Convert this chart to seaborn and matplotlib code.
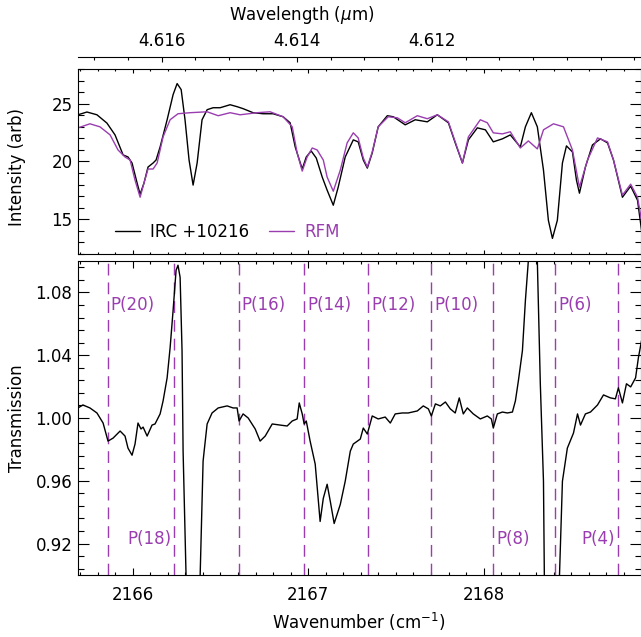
import matplotlib
matplotlib.use("Agg")
import matplotlib.pyplot as plt
import seaborn as sns
import pandas as pd
from matplotlib.ticker import MultipleLocator, FixedLocator

# ---------------- data ----------------
# Top panel: observed spectrum of IRC +10216
obs_wn = [2165.688, 2165.739, 2165.796, 2165.853, 2165.899, 2165.945, 2165.973, 2165.996,
          2166.025, 2166.042, 2166.064, 2166.087, 2166.116, 2166.133, 2166.156, 2166.196,
          2166.230, 2166.253, 2166.276, 2166.298, 2166.321, 2166.344, 2166.367, 2166.395,
          2166.424, 2166.458, 2166.498, 2166.555, 2166.595, 2166.629, 2166.686, 2166.743,
          2166.800, 2166.857, 2166.897, 2166.926, 2166.966, 2166.989, 2167.017, 2167.046,
          2167.080, 2167.108, 2167.143, 2167.171, 2167.211, 2167.257, 2167.285, 2167.314,
          2167.337, 2167.365, 2167.399, 2167.451, 2167.485, 2167.553, 2167.610, 2167.679,
          2167.736, 2167.799, 2167.838, 2167.879, 2167.913, 2167.964, 2168.010, 2168.055,
          2168.107, 2168.152, 2168.209, 2168.238, 2168.272, 2168.306, 2168.341, 2168.369,
          2168.392, 2168.420, 2168.449, 2168.472, 2168.506, 2168.529, 2168.546, 2168.580,
          2168.620, 2168.666, 2168.706, 2168.740, 2168.791, 2168.838, 2168.877, 2168.900]
obs_int = [24.04, 24.28, 24.04, 23.32, 22.30, 20.57, 20.39, 19.87,
           18.13, 17.17, 18.13, 19.52, 19.87, 20.13, 21.26, 23.61,
           25.78, 26.74, 26.22, 23.61, 20.13, 17.96, 19.87, 23.61,
           24.48, 24.65, 24.65, 24.91, 24.74, 24.57, 24.22, 24.13,
           24.13, 23.87, 23.35, 21.26, 19.35, 20.39, 20.91, 20.30,
           18.65, 17.52, 16.22, 17.78, 20.39, 21.87, 21.70, 20.13,
           19.43, 20.74, 23.00, 23.96, 23.87, 23.17, 23.61, 23.43,
           24.04, 23.35, 21.61, 19.87, 21.87, 22.91, 22.74, 21.70,
           21.96, 22.30, 21.26, 23.00, 24.22, 23.00, 19.26, 14.91,
           13.35, 14.91, 19.87, 21.35, 20.83, 18.39, 17.26, 19.52,
           21.43, 21.96, 21.61, 20.13, 16.91, 17.87, 16.65, 14.04]

# Top panel: RFM model
rfm_wn = [2165.688, 2165.756, 2165.813, 2165.871, 2165.916, 2165.956, 2165.985, 2166.013,
          2166.042, 2166.064, 2166.087, 2166.116, 2166.139, 2166.173, 2166.213, 2166.258,
          2166.327, 2166.424, 2166.487, 2166.555, 2166.612, 2166.709, 2166.783, 2166.857,
          2166.909, 2166.937, 2166.966, 2166.994, 2167.023, 2167.051, 2167.086, 2167.108,
          2167.143, 2167.183, 2167.222, 2167.257, 2167.285, 2167.314, 2167.337, 2167.365,
          2167.399, 2167.456, 2167.508, 2167.553, 2167.622, 2167.679, 2167.736, 2167.799,
          2167.838, 2167.879, 2167.913, 2167.981, 2168.021, 2168.055, 2168.107, 2168.152,
          2168.209, 2168.255, 2168.306, 2168.341, 2168.398, 2168.455, 2168.506, 2168.546,
          2168.592, 2168.649, 2168.706, 2168.740, 2168.791, 2168.838, 2168.877, 2168.900]
rfm_int = [22.91, 23.26, 23.00, 22.30, 21.00, 20.39, 20.13, 18.39,
           16.91, 18.13, 19.35, 19.35, 19.87, 22.13, 23.61, 24.13,
           24.22, 24.30, 23.96, 24.22, 24.04, 24.22, 24.30, 23.87,
           23.00, 20.74, 19.17, 20.39, 21.17, 21.00, 20.13, 18.65,
           17.43, 19.26, 21.61, 22.48, 22.04, 20.30, 19.52, 20.83,
           23.00, 23.87, 23.78, 23.35, 23.96, 23.70, 24.04, 23.43,
           21.70, 19.87, 22.13, 23.61, 23.35, 22.48, 22.39, 22.57,
           21.17, 21.78, 21.09, 22.74, 23.26, 23.00, 21.00, 17.78,
           20.13, 22.04, 21.70, 20.13, 17.09, 18.04, 16.91, 14.91]

# Bottom panel: transmission (observed / model)
tr_wn = [2165.688, 2165.716, 2165.756, 2165.796, 2165.831, 2165.859, 2165.888, 2165.928,
         2165.956, 2165.973, 2165.996, 2166.013, 2166.030, 2166.047, 2166.059, 2166.082,
         2166.110, 2166.127, 2166.156, 2166.173, 2166.196, 2166.213, 2166.230, 2166.247,
         2166.258, 2166.270, 2166.281, 2166.287, 2166.304, 2166.344, 2166.384, 2166.401,
         2166.407, 2166.424, 2166.452, 2166.487, 2166.538, 2166.572, 2166.595, 2166.606,
         2166.629, 2166.658, 2166.698, 2166.726, 2166.755, 2166.795, 2166.840, 2166.880,
         2166.909, 2166.937, 2166.949, 2166.966, 2166.977, 2166.989, 2167.011, 2167.040,
         2167.068, 2167.086, 2167.108, 2167.126, 2167.148, 2167.183, 2167.211, 2167.240,
         2167.257, 2167.297, 2167.314, 2167.337, 2167.365, 2167.399, 2167.439, 2167.468,
         2167.496, 2167.536, 2167.570, 2167.622, 2167.656, 2167.685, 2167.702, 2167.725,
         2167.753, 2167.782, 2167.810, 2167.838, 2167.861, 2167.884, 2167.907, 2167.941,
         2167.981, 2168.021, 2168.044, 2168.055, 2168.078, 2168.107, 2168.135, 2168.164,
         2168.181, 2168.198, 2168.221, 2168.238, 2168.255, 2168.278, 2168.306, 2168.323,
         2168.341, 2168.346, 2168.387, 2168.432, 2168.449, 2168.477, 2168.512, 2168.535,
         2168.552, 2168.580, 2168.609, 2168.649, 2168.683, 2168.723, 2168.751, 2168.768,
         2168.791, 2168.814, 2168.838, 2168.866, 2168.882, 2168.900]
tr_val = [1.0064, 1.0083, 1.0064, 1.0032, 0.9968, 0.9853, 0.9872, 0.9917,
          0.9885, 0.9808, 0.9763, 0.9834, 0.9968, 0.9930, 0.9942, 0.9885,
          0.9955, 0.9962, 1.0026, 1.0109, 1.0256, 1.0448, 1.0685, 1.0941,
          1.0973, 1.0896, 1.0429, 0.9789, 0.8989, 0.8000, 0.8989, 0.9725,
          0.9789, 0.9962, 1.0032, 1.0064, 1.0077, 1.0064, 1.0064, 0.9981,
          1.0026, 1.0000, 0.9930, 0.9853, 0.9885, 0.9962, 0.9955, 0.9949,
          0.9981, 0.9994, 1.0096, 1.0026, 0.9962, 0.9981, 0.9853, 0.9706,
          0.9341, 0.9488, 0.9578, 0.9469, 0.9328, 0.9450, 0.9597, 0.9789,
          0.9834, 0.9866, 0.9936, 0.9898, 1.0013, 0.9994, 1.0006, 0.9968,
          1.0026, 1.0032, 1.0032, 1.0045, 1.0077, 1.0058, 1.0013, 1.0090,
          1.0077, 1.0102, 1.0058, 1.0032, 1.0128, 1.0026, 1.0064, 1.0026,
          0.9994, 1.0013, 0.9994, 0.9936, 1.0026, 1.0038, 1.0032, 1.0038,
          1.0109, 1.0237, 1.0429, 1.0749, 1.1005, 1.1600, 1.1000, 1.0218,
          0.9597, 0.8989, 0.8200, 0.8989, 0.9597, 0.9808, 0.9904, 1.0026,
          0.9955, 1.0026, 1.0038, 1.0083, 1.0147, 1.0128, 1.0122, 1.0192,
          1.0096, 1.0218, 1.0198, 1.0256, 1.0384, 1.0493]

# Line identifications
p_wn = [2165.859, 2166.236, 2166.606, 2166.977, 2167.342, 2167.702, 2168.055, 2168.409, 2168.763]
p_labels = ["P(20)", "P(18)", "P(16)", "P(14)", "P(12)", "P(10)", "P(8)", "P(6)", "P(4)"]

wn_ticks = [2166, 2167, 2168]
wl_ticks = [4.616, 4.614, 4.612]
int_ticks = [15, 20, 25]
tr_ticks = [0.92, 0.96, 1.00, 1.04, 1.08]

# ---------------- styling ----------------
sns.set_style("ticks")
plt.rcParams["font.family"] = ["DejaVu Sans"]
plt.rcParams["mathtext.fontset"] = "dejavusans"
plt.rcParams["text.color"] = "black"
plt.rcParams["axes.labelcolor"] = "black"
plt.rcParams["xtick.color"] = "black"
plt.rcParams["ytick.color"] = "black"
plt.rcParams["axes.edgecolor"] = "black"
FS = 12
PURPLE = "#9a3db0"

# label placement: (level, side)
place = {"P(20)": ("top", "right"), "P(18)": ("bottom", "left"), "P(16)": ("top", "right"),
         "P(14)": ("top", "right"), "P(12)": ("top", "right"), "P(10)": ("top", "right"),
         "P(8)": ("bottom", "right"), "P(6)": ("top", "right"), "P(4)": ("bottom", "left")}

W_PX, H_PX = 641, 637
fig = plt.figure(figsize=(W_PX / 100, H_PX / 100), dpi=100)
L = 78 / W_PX
W = 562.5 / W_PX
ax_top = fig.add_axes([L, (H_PX - 254) / H_PX, W, 185 / H_PX])
ax_bot = fig.add_axes([L, (H_PX - 575) / H_PX, W, 314 / H_PX])
ax_wl = fig.add_axes([L, (H_PX - 57) / H_PX - 0.002, W, 0.002])

xlim = (2165.688, 2168.894)

# ---- top panel
df_obs = pd.DataFrame({"wn": obs_wn, "val": obs_int})
df_rfm = pd.DataFrame({"wn": rfm_wn, "val": rfm_int})
sns.lineplot(data=df_obs, x="wn", y="val", color="black", lw=1.0, ax=ax_top, label="IRC +10216")
sns.lineplot(data=df_rfm, x="wn", y="val", color=PURPLE, lw=1.0, ax=ax_top, label="RFM")
ax_top.set_xlim(*xlim)
ax_top.set_ylim(12, 28)
ax_top.xaxis.set_major_locator(FixedLocator(wn_ticks))
ax_top.xaxis.set_minor_locator(MultipleLocator(0.1))
ax_top.yaxis.set_major_locator(FixedLocator(int_ticks))
ax_top.yaxis.set_minor_locator(MultipleLocator(1))
ax_top.set_xticklabels([])
ax_top.set_xlabel("")
ax_top.set_ylabel("Intensity (arb)", fontsize=FS)
ax_top.yaxis.set_label_coords(-0.093, 0.47)
ax_top.tick_params(axis="both", which="both", direction="in", top=True, right=True,
                   labelsize=FS, width=0.8, pad=4)
ax_top.tick_params(axis="x", which="major", length=2.8)
ax_top.tick_params(axis="x", which="minor", length=1.5)
ax_top.tick_params(axis="y", which="major", length=8)
ax_top.tick_params(axis="y", which="minor", length=4)
leg = ax_top.legend(loc="center left", bbox_to_anchor=(0.066, 0.12), ncol=2, frameon=False,
                    fontsize=FS, handlelength=1.5, handletextpad=0.6, columnspacing=1.2,
                    borderpad=0, borderaxespad=0)
for t, c in zip(leg.get_texts(), ["black", PURPLE]):
    t.set_color(c)

# ---- bottom panel
df_tr = pd.DataFrame({"wn": tr_wn, "val": tr_val})
for wn in p_wn:
    ax_bot.axvline(wn, color=PURPLE, lw=1.0, dashes=(8.5, 5))
sns.lineplot(data=df_tr, x="wn", y="val", color="black", lw=1.0, ax=ax_bot)
ax_bot.set_xlim(*xlim)
ax_bot.set_ylim(0.90, 1.10)
ax_bot.xaxis.set_major_locator(FixedLocator(wn_ticks))
ax_bot.xaxis.set_minor_locator(MultipleLocator(0.1))
ax_bot.yaxis.set_major_locator(FixedLocator(tr_ticks))
ax_bot.yaxis.set_minor_locator(MultipleLocator(0.008))
ax_bot.yaxis.set_major_formatter(matplotlib.ticker.FormatStrFormatter("%.2f"))
ax_bot.tick_params(axis="both", which="both", direction="in", top=True, right=True,
                   labelsize=FS, width=0.8, pad=4)
ax_bot.tick_params(axis="x", which="both", pad=8)
ax_bot.tick_params(axis="x", which="major", length=4.7)
ax_bot.tick_params(axis="x", which="minor", length=2.4)
ax_bot.tick_params(axis="y", which="major", length=8)
ax_bot.tick_params(axis="y", which="minor", length=4)
ax_bot.set_xlabel("Wavenumber (cm$^{-1}$)", fontsize=FS, labelpad=5)
ax_bot.set_ylabel("Transmission", fontsize=FS)
ax_bot.yaxis.set_label_coords(-0.093, 0.5)

for wn, lab in zip(p_wn, p_labels):
    level, side = place[lab]
    yv = 1.072 if level == "top" else 0.9227
    off = 2 if side == "right" else -2
    ax_bot.annotate(lab, xy=(wn, yv), xytext=(off, 0), textcoords="offset points",
                    ha="left" if side == "right" else "right", va="center",
                    color=PURPLE, fontsize=FS)

# ---- wavelength axis
ax_wl.set_xlim(4.61724, 4.60891)
ax_wl.set_ylim(0, 1)
ax_wl.patch.set_alpha(0)
for s in ["left", "right", "bottom"]:
    ax_wl.spines[s].set_visible(False)
ax_wl.spines["top"].set_linewidth(0.8)
ax_wl.set_yticks([])
ax_wl.xaxis.set_major_locator(FixedLocator(wl_ticks))
ax_wl.xaxis.set_minor_locator(MultipleLocator(0.0005))
ax_wl.xaxis.set_major_formatter(matplotlib.ticker.FormatStrFormatter("%.3f"))
ax_wl.tick_params(axis="x", which="both", direction="in", top=True, bottom=False,
                  labeltop=True, labelbottom=False, labelsize=FS, width=0.8, pad=5)
ax_wl.tick_params(axis="x", which="major", length=3.3)
ax_wl.tick_params(axis="x", which="minor", length=2.0)
fig.text(302 / W_PX, 1 - 15 / H_PX, r"Wavelength ($\mu$m)", ha="center", va="center", fontsize=FS)

for ax in (ax_top, ax_bot):
    for s in ax.spines.values():
        s.set_linewidth(0.8)

fig.savefig("out.png", dpi=100)
